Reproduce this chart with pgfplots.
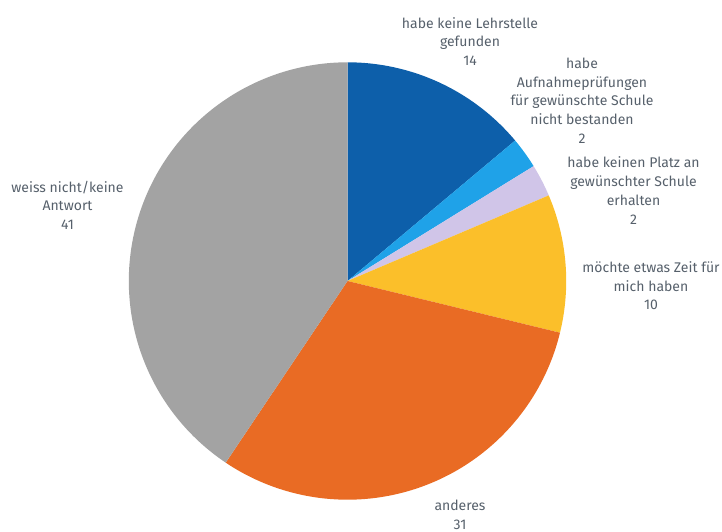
\documentclass[border=0pt]{standalone}
\usepackage{pgfplots}
\usepackage{pgfplotstable}
\pgfplotsset{compat=1.18}
\usepackage{fontspec}
\setmainfont{Fira Sans}
\definecolor{cA}{HTML}{0D5FAA}
\definecolor{cB}{HTML}{1FA2E8}
\definecolor{cC}{HTML}{D0C5E8}
\definecolor{cD}{HTML}{FBBF2A}
\definecolor{cE}{HTML}{E96B24}
\definecolor{cF}{HTML}{A3A3A3}
\definecolor{txt}{RGB}{86,96,107}
% slice sizes as drawn in the reference (shown labels are rounded)
\pgfplotstableread{
v
13.9
2.3
2.4
10.2
30.6
40.6
}\piedata
\pgfplotstablegetelem{0}{v}\of\piedata\let\vA\pgfplotsretval
\pgfplotstablegetelem{1}{v}\of\piedata\let\vB\pgfplotsretval
\pgfplotstablegetelem{2}{v}\of\piedata\let\vC\pgfplotsretval
\pgfplotstablegetelem{3}{v}\of\piedata\let\vD\pgfplotsretval
\pgfplotstablegetelem{4}{v}\of\piedata\let\vE\pgfplotsretval
\pgfplotstablegetelem{5}{v}\of\piedata\let\vF\pgfplotsretval
\pgfmathsetmacro{\tot}{\vA+\vB+\vC+\vD+\vE+\vF}
\pgfmathsetmacro{\aA}{90}
\pgfmathsetmacro{\aB}{\aA-360*\vA/\tot}
\pgfmathsetmacro{\aC}{\aB-360*\vB/\tot}
\pgfmathsetmacro{\aD}{\aC-360*\vC/\tot}
\pgfmathsetmacro{\aE}{\aD-360*\vD/\tot}
\pgfmathsetmacro{\aF}{\aE-360*\vE/\tot}
\pgfmathsetmacro{\aG}{\aF-360*\vF/\tot}
\def\cx{347.5}\def\cy{251}\def\rr{218.7}
\tikzset{lbl/.style={font=\fontsize{14bp}{18.7bp}\selectfont, text=txt, align=center, inner sep=0pt}}
\begin{document}
\begin{tikzpicture}
\begin{axis}[
  width=722bp, height=532bp, scale only axis,
  xmin=0, xmax=722, ymin=0, ymax=532,
  hide axis, clip=false,
]
\path (rel axis cs:0,0) rectangle (rel axis cs:1,1);
\addplot[fill=cA, draw=none, domain=\aB:\aA, samples=80, variable=\t] ({\cx+\rr*cos(\t)},{\cy+\rr*sin(\t)}) -- (axis cs:\cx,\cy) -- cycle;
\addplot[fill=cB, draw=none, domain=\aC:\aB, samples=20, variable=\t] ({\cx+\rr*cos(\t)},{\cy+\rr*sin(\t)}) -- (axis cs:\cx,\cy) -- cycle;
\addplot[fill=cC, draw=none, domain=\aD:\aC, samples=20, variable=\t] ({\cx+\rr*cos(\t)},{\cy+\rr*sin(\t)}) -- (axis cs:\cx,\cy) -- cycle;
\addplot[fill=cD, draw=none, domain=\aE:\aD, samples=60, variable=\t] ({\cx+\rr*cos(\t)},{\cy+\rr*sin(\t)}) -- (axis cs:\cx,\cy) -- cycle;
\addplot[fill=cE, draw=none, domain=\aF:\aE, samples=120, variable=\t] ({\cx+\rr*cos(\t)},{\cy+\rr*sin(\t)}) -- (axis cs:\cx,\cy) -- cycle;
\addplot[fill=cF, draw=none, domain=\aG:\aF, samples=150, variable=\t] ({\cx+\rr*cos(\t)},{\cy+\rr*sin(\t)}) -- (axis cs:\cx,\cy) -- cycle;
\node[lbl] at (axis cs:470,490.5) {habe keine Lehrstelle\\gefunden\\14};
\node[lbl] at (axis cs:582,431.5) {habe\\Aufnahmeprüfungen\\für gewünschte Schule\\nicht bestanden\\2};
\node[lbl] at (axis cs:633.5,341.5) {habe keinen Platz an\\gewünschter Schule\\erhalten\\2};
\node[lbl] at (axis cs:651,246.2) {möchte etwas Zeit für\\mich haben\\10};
\node[lbl] at (axis cs:67.5,326.8) {weiss nicht/keine\\Antwort\\41};
\node[lbl] at (axis cs:460,17) {anderes\\31};
\end{axis}
\end{tikzpicture}
\end{document}
